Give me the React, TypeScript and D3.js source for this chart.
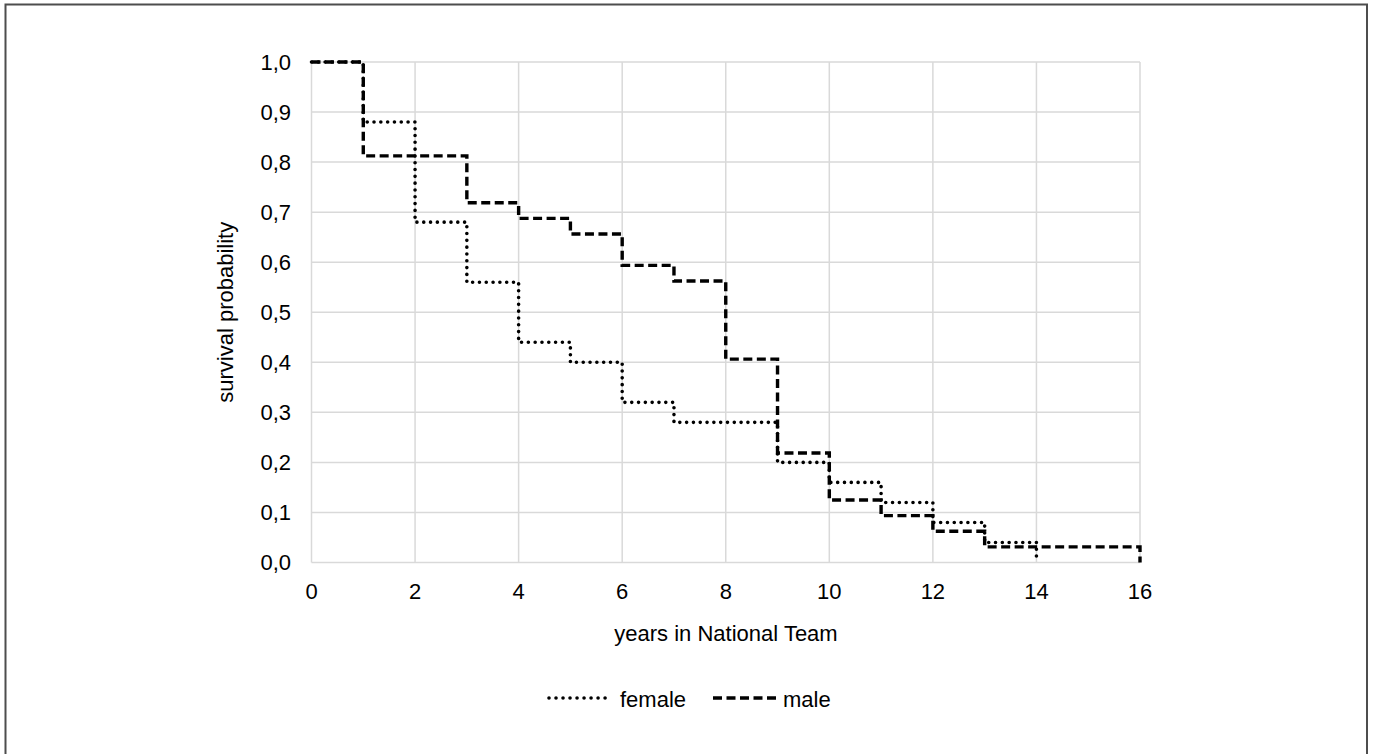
import React, { useEffect } from "react";
import * as d3 from "d3";

// Kaplan-Meier steps
const femaleYears = [0, 1, 2, 3, 4, 5, 6, 7, 9, 10, 11, 12, 13, 14];
const femaleSurvival = [1, 0.88, 0.68, 0.56, 0.44, 0.4, 0.32, 0.28, 0.2, 0.16, 0.12, 0.08, 0.04, 0];
const maleYears = [0, 1, 3, 4, 5, 6, 7, 8, 9, 10, 11, 12, 13, 16];
const maleSurvival = [1, 0.8125, 0.71875, 0.6875, 0.65625, 0.59375, 0.5625, 0.40625, 0.21875, 0.125, 0.09375, 0.0625, 0.03125, 0];

const xTicks = [0, 2, 4, 6, 8, 10, 12, 14, 16];
const yTicks = [0, 0.1, 0.2, 0.3, 0.4, 0.5, 0.6, 0.7, 0.8, 0.9, 1.0];
const xGrid = d3.range(0, 17, 2);

const FONT = "Liberation Sans, Arial, sans-serif";

export default function App() {
  useEffect(() => {
    document.body.style.margin = "0";
    document.body.style.overflow = "hidden";
  }, []);

  const width = 1375;
  const height = 754;
  const xScale = d3.scaleLinear().domain([0, 16]).range([311.5, 1140]);
  const yScale = d3.scaleLinear().domain([0, 1]).range([562.5, 62]);

  const line = d3
    .line<[number, number]>()
    .x(d => xScale(d[0]))
    .y(d => yScale(d[1]))
    .curve(d3.curveStepAfter);

  const femalePath = line(femaleYears.map((t, i) => [t, femaleSurvival[i]]));
  const malePath = line(maleYears.map((t, i) => [t, maleSurvival[i]]));

  const fmt = (v: number) => v.toFixed(1).replace(".", ",");

  return (
    <svg width={width} height={height} style={{ display: "block", background: "#fff" }} fontFamily={FONT}>
      {/* outer frame */}
      <rect x={5.5} y={4.5} width={1361.5} height={760} fill="none" stroke="#4d4d4d" strokeWidth={2} />

      {/* grid */}
      <g stroke="#d9d9d9" strokeWidth={1.5}>
        {yTicks.map(t => (
          <line key={"h" + t} x1={xScale(0)} x2={xScale(16)} y1={yScale(t)} y2={yScale(t)} />
        ))}
        {xGrid.map(t => (
          <line key={"v" + t} x1={xScale(t)} x2={xScale(t)} y1={yScale(0)} y2={yScale(1)} />
        ))}
      </g>

      {/* y ticks */}
      <g fontSize={22} fill="#000" textAnchor="end">
        {yTicks.map(t => (
          <text key={t} x={291} y={yScale(t)} dy="0.35em">
            {fmt(t)}
          </text>
        ))}
      </g>

      {/* x ticks */}
      <g fontSize={22} fill="#000" textAnchor="middle">
        {xTicks.map(t => (
          <text key={t} x={xScale(t)} y={599}>
            {t}
          </text>
        ))}
      </g>

      <text x={726} y={641} fontSize={22} textAnchor="middle">
        years in National Team
      </text>
      <text transform={`translate(233,${(yScale(0) + yScale(1)) / 2}) rotate(-90)`} fontSize={22} textAnchor="middle">
        survival probability
      </text>

      {/* series */}
      <path d={femalePath || ""} fill="none" stroke="#000" strokeWidth={3.6} strokeLinecap="round" strokeDasharray="0.01 6.8" />
      <path d={malePath || ""} fill="none" stroke="#000" strokeWidth={3.4} strokeDasharray="9 4.5" />

      {/* legend */}
      <line x1={549} x2={607} y1={698} y2={698} stroke="#000" strokeWidth={3.6} strokeLinecap="round" strokeDasharray="0.01 7" />
      <text x={620} y={707} fontSize={22}>female</text>
      <line x1={713} x2={778} y1={698} y2={698} stroke="#000" strokeWidth={3.4} strokeDasharray="9 4.5" />
      <text x={783} y={707} fontSize={22}>male</text>
    </svg>
  );
}
